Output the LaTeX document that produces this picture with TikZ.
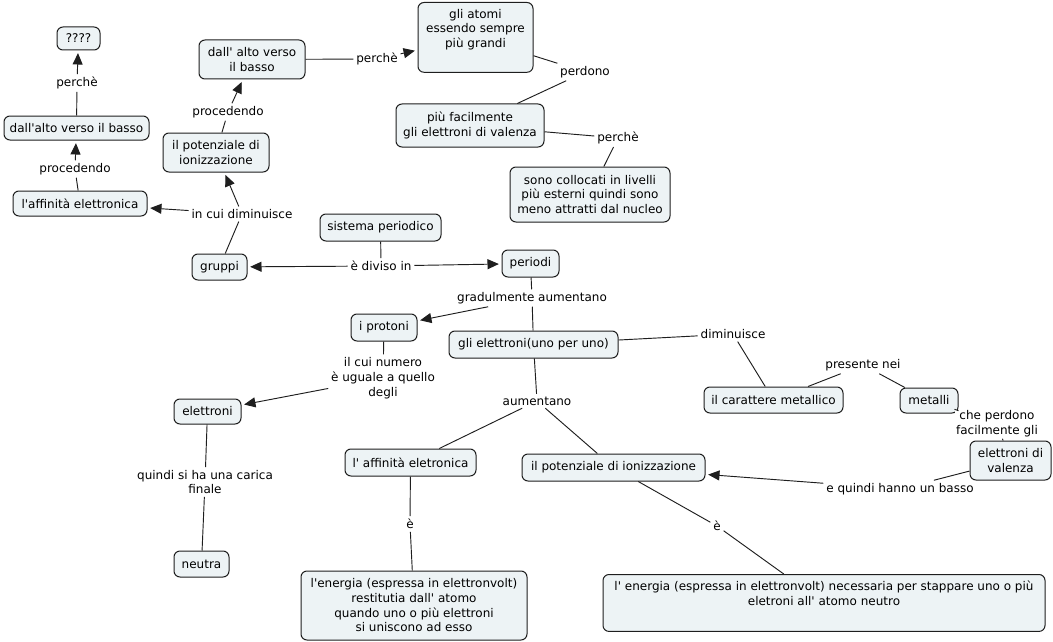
\documentclass[tikz,border=0pt]{standalone}
\usepackage{fontspec}
\newfontfamily\vfont{DejaVu Sans}
\usetikzlibrary{arrows.meta}
\definecolor{boxfill}{RGB}{237,243,245}
\definecolor{boxline}{RGB}{30,30,30}
\begin{document}
\begin{tikzpicture}[x=0.75pt,y=-0.75pt,
  font=\vfont\fontsize{9}{11}\selectfont,
  box/.style 2 args={draw=boxline, fill=boxfill, rounded corners=4.5pt, line width=0.75pt,
     align=center, inner sep=2pt, minimum width=#1*0.75pt, minimum height=#2*0.75pt},
  tbox/.style={draw=boxline, fill=boxfill, rounded corners=4.5pt, line width=0.75pt,
     align=center, inner xsep=3pt, inner ysep=5pt},
  lab/.style={align=center, inner sep=2pt, fill=white},
  conn/.style={draw=boxline, line width=0.7pt},
  arr/.style={conn, -{Triangle[length=8.5pt,width=7.5pt]}, shorten >=2pt}
]
\path[fill=white] (0,0) rectangle (1053,642);
\useasboundingbox (0,0) rectangle (1053,642);

% boxes
\node[box={43}{23}] (q) at (78.5,38.5) {????};
\node[box={145}{24}] (dab1) at (76.5,128) {dall'alto verso il basso};
\node[box={134}{25}] (aff1) at (80,203.5) {l'affinità elettronica};
\node[box={106}{39}] (pot1) at (216,152.5) {il potenziale di\\ionizzazione};
\node[box={106}{39}] (dab2) at (252,59.5) {dall' alto verso\\il basso};
\node[tbox, minimum width=115*0.75pt, text depth=13.5pt, anchor=north] (atomi) at (475.5,2) {gli atomi\\essendo sempre\\più grandi};
\node[box={148}{43}] (piu) at (470,125.5) {più facilmente\\gli elettroni di valenza};
\node[box={160}{55}] (sono) at (590,194.5) {sono collocati in livelli\\più esterni quindi sono\\meno attratti dal nucleo};
\node[box={121}{27}] (sist) at (380.5,227.5) {sistema periodico};
\node[box={55}{26}] (gruppi) at (219.5,267) {gruppi};
\node[box={57}{27}] (periodi) at (530.5,263.5) {periodi};
\node[box={66}{27}] (protoni) at (384,327.5) {i protoni};
\node[box={169}{27}] (glie) at (533.5,344.5) {gli elettroni(uno per uno)};
\node[box={67}{25}] (elet) at (207.5,411.5) {elettroni};
\node[box={55}{26}] (neutra) at (201.5,564) {neutra};
\node[box={131}{27}] (aff2) at (410.5,462.5) {l' affinità eletronica};
\node[box={226}{69}] (en1) at (414,605.5) {l'energia (espressa in elettronvolt)\\restitutia dall' atomo\\quando uno o più elettroni\\si uniscono ad esso};
\node[box={183}{27}] (pot2) at (613.5,467.5) {il potenziale di ionizzazione};
\node[tbox, minimum width=442*0.75pt, text depth=14.5pt, anchor=north] (en2) at (824,574) {l' energia (espressa in elettronvolt) necessaria per stappare uno o più\\eletroni all' atomo neutro};
\node[box={139}{26}] (carat) at (773.5,400) {il carattere metallico};
\node[box={58}{25}] (metalli) at (929,400.5) {metalli};
\node[box={81}{39}] (val) at (1010.5,460.5) {elettroni di\\valenza};

% linking phrases
\node[lab] (lperche1) at (77,83) {perchè};
\node[lab] (lproc1) at (75,169) {procedendo};
\node[lab] (lproc2) at (228,112) {procedendo};
\node[lab] (lincui) at (242,214) {in cui diminuisce};
\node[lab] (lperche2) at (377,59) {perchè};
\node[lab] (lperdono) at (585,72) {perdono};
\node[lab] (lperche3) at (618,138) {perchè};
\node[lab] (ldiviso) at (381,266) {è diviso in};
\node[lab] (lgrad) at (532,298) {gradulmente aumentano};
\node[lab, font=\vfont\fontsize{9}{11.25}\selectfont] (lcui) at (383,378) {il cui numero\\è uguale a quello\\degli};
\node[lab] (laum) at (537,401) {aumentano};
\node[lab] (ldim) at (733,334) {diminuisce};
\node[lab] (lpres) at (863,365) {presente nei};
\node[lab, inner sep=1pt] (lche) at (997,424) {che perdono\\facilmente gli};
\node[lab] (lbasso) at (900,489) {e quindi hanno un basso};
\node[lab] (lcarica) at (205,482) {quindi si ha una carica\\finale};
\node[lab] (le1) at (410,524) {è};
\node[lab] (le2) at (717,526) {è};

% connectors
\draw[conn] (dab1) -- (lperche1);
\draw[arr] (lperche1) -- (q);
\draw[conn] (aff1) -- (lproc1);
\draw[arr] (lproc1) -- (dab1);
\draw[conn] (gruppi) -- (lincui);
\draw[arr] (lincui) -- (aff1);
\draw[arr] (lincui) -- (pot1);
\draw[conn] (pot1) -- (lproc2);
\draw[arr] (lproc2) -- (dab2);
\draw[conn] (dab2) -- (lperche2);
\draw[arr] (lperche2) -- (atomi);
\draw[conn] (atomi) -- (lperdono);
\draw[conn] (lperdono) -- (piu);
\draw[conn] (piu) -- (lperche3);
\draw[conn] (lperche3) -- (sono);
\draw[conn] (sist) -- (ldiviso);
\draw[arr] (ldiviso) -- (gruppi);
\draw[arr] (ldiviso) -- (periodi);
\draw[conn] (periodi) -- (lgrad);
\draw[arr] (lgrad) -- (protoni);
\draw[conn] (lgrad) -- (glie);
\draw[conn] (protoni) -- (lcui);
\draw[arr] (lcui) -- (elet);
\draw[conn] (elet) -- (lcarica);
\draw[conn] (lcarica) -- (neutra);
\draw[conn] (glie) -- (laum);
\draw[conn] (laum) -- (aff2);
\draw[conn] (laum) -- (pot2);
\draw[conn] (glie) -- (ldim);
\draw[conn] (ldim) -- (carat);
\draw[conn] (carat) -- (lpres);
\draw[conn] (lpres) -- (metalli);
\draw[conn] (metalli) -- (lche);
\draw[conn] (lche) -- (val);
\draw[conn] (val) -- (lbasso);
\draw[arr] (lbasso) -- (pot2);
\draw[conn] (aff2) -- (le1);
\draw[conn] (le1) -- (en1);
\draw[conn] (pot2) -- (le2);
\draw[conn] (le2) -- (en2);
\end{tikzpicture}
\end{document}
